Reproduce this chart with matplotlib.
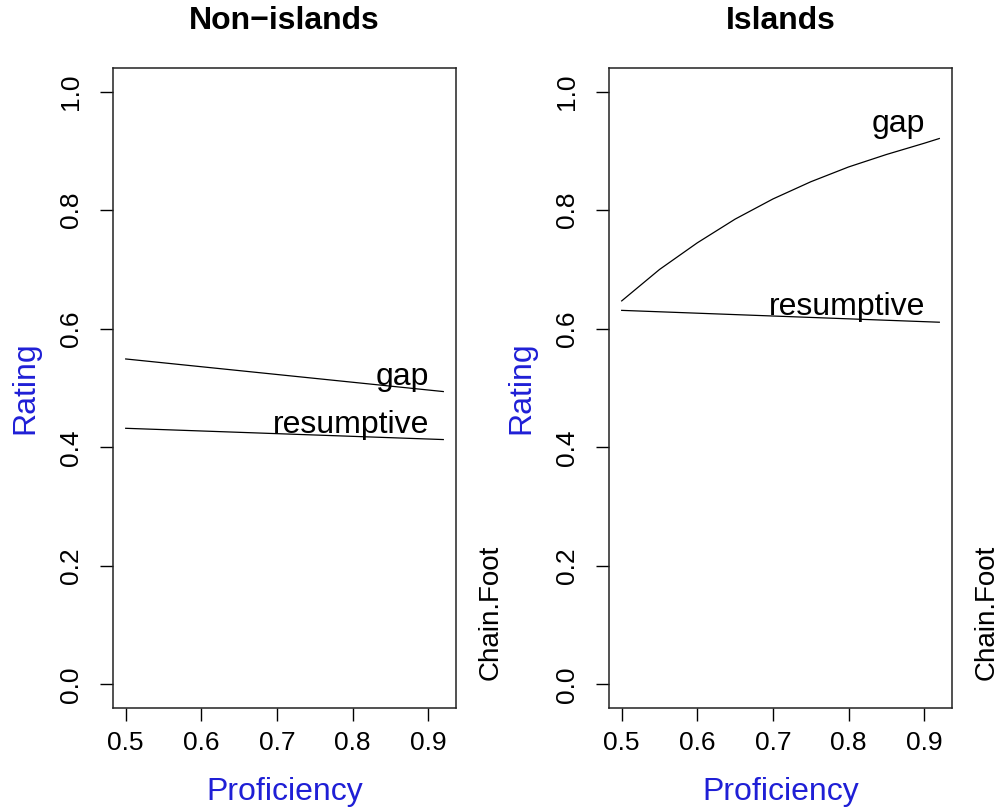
import numpy as np
import matplotlib
matplotlib.use("Agg")
import matplotlib.pyplot as plt

plt.rcParams['font.family'] = ['Liberation Sans', 'DejaVu Sans']

# proficiency values where the curves were read
prof = [0.50, 0.55, 0.60, 0.65, 0.70, 0.75, 0.80, 0.85, 0.90, 0.92]
# the nearly straight lines only need their end points
prof_ends = [0.50, 0.92]

# Non-islands
non_gap = [0.549, 0.494]
non_res = [0.432, 0.413]

# Islands
isl_gap = [0.647, 0.700, 0.745, 0.785, 0.819, 0.848, 0.873, 0.894, 0.913, 0.921]
isl_res = [0.631, 0.611]

panels = [
    ('Non\u2212islands', prof_ends, non_gap, non_res),
    ('Islands', prof, isl_gap, isl_res),
]
y_ticks = [0.0, 0.2, 0.4, 0.6, 0.8, 1.0]
x_ticks = [0.5, 0.6, 0.7, 0.8, 0.9]

fig = plt.figure(figsize=(10, 8.08), dpi=100)
lefts = [0.113, 0.609]
blue = '#1f1fd6'

for left, (title, gx, gap, res) in zip(lefts, panels):
    ax = fig.add_axes([left, 1 - 708 / 808, 0.343, 640 / 808])
    ax.plot(gx, gap, color='black', lw=0.9)
    ax.plot(prof_ends, res, color='black', lw=0.9)
    ax.margins(x=0.04)
    ax.set_ylim(-0.04, 1.04)

    ax.annotate('gap', (gx[-1], gap[-1]), xytext=(-14, 7),
                textcoords='offset pixels', ha='right', va='baseline',
                fontsize=23)
    ax.annotate('resumptive', (prof_ends[-1], res[-1]), xytext=(-14, 7),
                textcoords='offset pixels', ha='right', va='baseline',
                fontsize=23)

    ax.set_xticks(x_ticks)
    ax.set_xticklabels(['%.1f' % v for v in x_ticks])
    ax.set_yticks(y_ticks)
    ax.set_yticklabels(['%.1f' % v for v in y_ticks], rotation=90, va='center')
    ax.tick_params(axis='both', direction='out', length=9.4, width=1.0,
                   labelsize=19)
    ax.tick_params(axis='x', pad=7)
    ax.tick_params(axis='y', pad=12)
    for s in ax.spines.values():
        s.set_linewidth(1.1)
        s.set_color('#222222')

    ax.set_xlabel('Proficiency', fontsize=23, color=blue)
    ax.xaxis.set_label_coords(0.5, -0.131)
    ax.xaxis.label.set_va('center')
    ax.set_ylabel('Rating', fontsize=23, color=blue)
    ax.yaxis.set_label_coords(-0.255, 0.5)
    ax.yaxis.label.set_va('center')

    ax.text(0.5, (708 - 29) / 640, title, transform=ax.transAxes,
            ha='center', va='baseline', fontsize=23, fontweight='bold')
    ax.text(1.102, 0.044, 'Chain.Foot', transform=ax.transAxes,
            rotation=90, ha='center', va='bottom', fontsize=20)

plt.savefig('out.png', dpi=100)
plt.close()
